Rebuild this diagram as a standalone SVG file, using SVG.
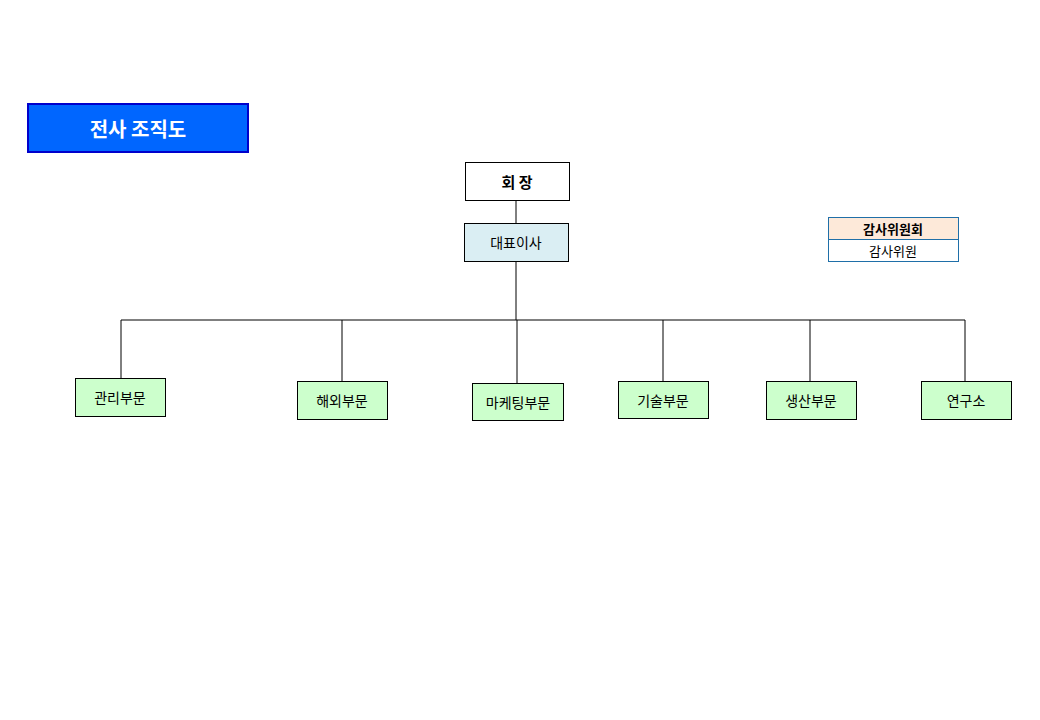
<svg xmlns="http://www.w3.org/2000/svg" width="1040" height="720" viewBox="0 0 1040 720">
<style>
text{font-family:"Noto Sans CJK KR","Noto Sans",sans-serif;text-anchor:middle;dominant-baseline:central;fill:#000}
.d rect{fill:#ccffcc;stroke:#000;stroke-width:1}
.d text{font-size:14px}
.c line{stroke:#000;stroke-width:1}
</style>
<rect width="1040" height="720" fill="#fff"/>
<g id="title"><rect x="28" y="104" width="220" height="48" fill="#0066ff" stroke="#0000cc" stroke-width="2"/><text x="138" y="128" font-size="20" font-weight="bold" style="fill:#fff">전사 조직도</text></g>
<g class="c">
<line x1="516" y1="200" x2="516" y2="224"/>
<line x1="516" y1="261" x2="516" y2="320"/>
<line x1="121" y1="320" x2="965" y2="320"/>
<line x1="121" y1="320" x2="121" y2="378"/>
<line x1="342" y1="320" x2="342" y2="382"/>
<line x1="517" y1="320" x2="517" y2="384"/>
<line x1="663" y1="320" x2="663" y2="382"/>
<line x1="810" y1="320" x2="810" y2="382"/>
<line x1="965" y1="320" x2="965" y2="382"/>
</g>
<g id="chair"><rect x="465.500" y="162.500" width="104" height="38" fill="#fff" stroke="#000"/><text x="517" y="181" font-size="15" font-weight="bold">회 장</text></g>
<g id="ceo"><rect x="464.500" y="223.500" width="104" height="38" fill="#daeef3" stroke="#000"/><text x="516" y="242" font-size="14">대표이사</text></g>
<g id="audit"><rect x="828.500" y="217.500" width="130" height="22" fill="#fde9d9" stroke="#1f6fa8"/><rect x="828.500" y="239.500" width="130" height="22" fill="#fff" stroke="#1f6fa8"/><text x="893" y="228" font-size="13" font-weight="bold">감사위원회</text><text x="893" y="250" font-size="13">감사위원</text></g>
<g id="n1" class="d"><rect x="75.500" y="378.500" width="90" height="38"/><text x="120" y="397">관리부문</text></g>
<g id="n2" class="d"><rect x="297.500" y="381.500" width="90" height="38"/><text x="342" y="400">해외부문</text></g>
<g id="n3" class="d"><rect x="472.500" y="383.500" width="91" height="37"/><text x="518" y="402">마케팅부문</text></g>
<g id="n4" class="d"><rect x="618.500" y="381.500" width="90" height="37"/><text x="663" y="400">기술부문</text></g>
<g id="n5" class="d"><rect x="766.500" y="381.500" width="90" height="38"/><text x="811" y="400">생산부문</text></g>
<g id="n6" class="d"><rect x="921.500" y="381.500" width="90" height="38"/><text x="966" y="400">연구소</text></g>
</svg>
